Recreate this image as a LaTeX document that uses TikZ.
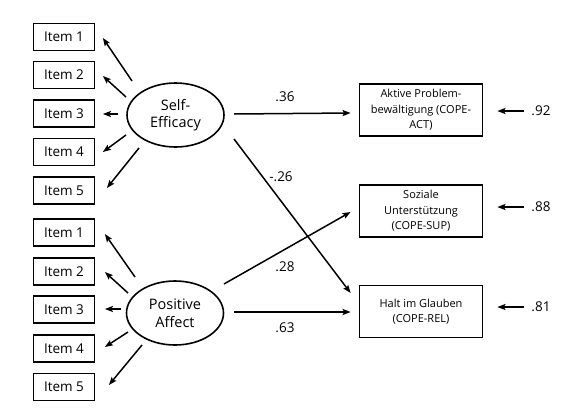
\documentclass[tikz,border=0pt]{standalone}
\usepackage{fontspec}
\setmainfont{Open Sans}
\usetikzlibrary{arrows.meta,calc,shapes.geometric}
\begin{document}
\begin{tikzpicture}[x=1pt,y=-1pt,
 item/.style={draw,line width=1.8pt,minimum width=61pt,minimum height=27pt,inner sep=0pt,font=\fontsize{13.5}{16}\selectfont},
 latent/.style={draw,ellipse,line width=1.6pt,minimum width=97pt,minimum height=64pt,inner sep=0pt,align=center,font=\fontsize{14.5}{17.5}\selectfont},
 obs/.style={draw,line width=1.8pt,minimum width=123pt,minimum height=52pt,inner sep=0pt,align=center,font=\fontsize{11}{15.5}\selectfont},
 coef/.style={font=\fontsize{13.5}{16}\selectfont,inner sep=0pt},
 arr/.style={line width=1.5pt,-{Stealth[length=8pt,width=6pt,inset=1.5pt]}}]
\useasboundingbox (0,0) rectangle (575,418);

% Self-efficacy block
\node[latent] (se) at (175.5,115) {Self-\\Efficacy};
\node[item] (s1) at (64,37) {Item 1};
\node[item] (s2) at (64,75) {Item 2};
\node[item] (s3) at (64,113.5) {Item 3};
\node[item] (s4) at (64,152) {Item 4};
\node[item] (s5) at (64,190.5) {Item 5};

% Positive affect block
\node[latent] (pa) at (175,313) {Positive\\Affect};
\node[item] (p1) at (64,232.5) {Item 1};
\node[item] (p2) at (64,271.5) {Item 2};
\node[item] (p3) at (64,309.5) {Item 3};
\node[item] (p4) at (64,348.5) {Item 4};
\node[item] (p5) at (64,387) {Item 5};

% Outcomes
\node[obs] (act) at (421,110) {Aktive Problem-\\bewältigung (COPE-\\ACT)};
\node[obs] (sup) at (421,211) {Soziale\\Unterstützung\\(COPE-SUP)};
\node[obs] (rel) at (421,311.5) {Halt im Glauben\\(COPE-REL)};

% loadings
\draw[arr] ($(se)+(-43.5,-34)$) -- ($(s1.east)+(7.5,1)$);
\draw[arr] ($(se)+(-49.5,-18)$) -- ($(s2.east)+(7.5,1)$);
\draw[arr] ($(se)+(-57.5,-1)$) -- ($(s3.east)+(7.5,0.5)$);
\draw[arr] ($(se)+(-49.5,20)$) -- ($(s4.east)+(7.5,0)$);
\draw[arr] ($(se)+(-36.5,33)$) -- ($(s5.east)+(11.5,-2.5)$);

\draw[arr] ($(pa)+(-40,-36)$) -- ($(p1.east)+(9.5,1.5)$);
\draw[arr] ($(pa)+(-47,-20)$) -- ($(p2.east)+(9.5,0.5)$);
\draw[arr] ($(pa)+(-54,-4)$) -- ($(p3.east)+(9.5,-0.5)$);
\draw[arr] ($(pa)+(-47,19)$) -- ($(p4.east)+(9.5,-1.5)$);
\draw[arr] ($(pa)+(-33,32)$) -- ($(p5.east)+(13.5,-2)$);

% structural paths
\draw[arr] ($(se)+(58.5,-1)$) -- ($(act.west)+(-8,3)$);
\draw[arr] ($(se)+(58.5,24)$) -- ($(rel.west)+(-8,-18.5)$);
\draw[arr] ($(pa)+(49,-29)$) -- ($(sup.west)+(-8,1)$);
\draw[arr] ($(pa)+(59,-1)$) -- ($(rel.west)+(-8,0.5)$);

\node[coef] (c1) at (285,97) {.36};
\node[coef] (c2) at (281,177) {-.26};
\node[coef] (c3) at (285,267) {.28};
\node[coef] (c4) at (285,328) {.63};

% residuals
\node[coef] (r1) at (541,111) {.92};
\node[coef] (r2) at (541,207) {.88};
\node[coef] (r3) at (541,307) {.81};
\draw[arr] ($(r1.west)+(-7,0)$) -- ($(act.east)+(14,1)$);
\draw[arr] ($(r2.west)+(-7,0)$) -- ($(sup.east)+(14,-4)$);
\draw[arr] ($(r3.west)+(-7,0)$) -- ($(rel.east)+(14,-4.5)$);
\end{tikzpicture}
\end{document}
